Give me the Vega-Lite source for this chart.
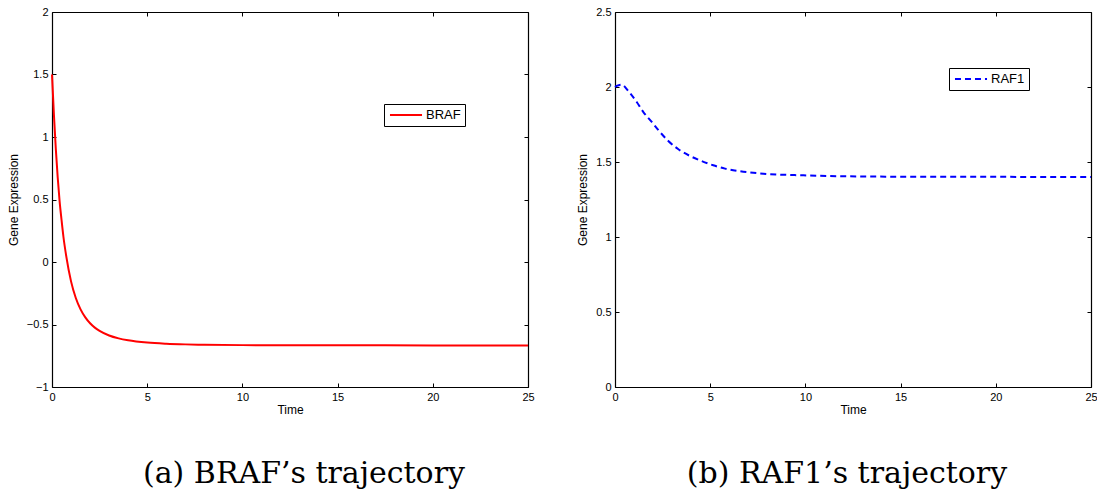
{
  "$schema": "https://vega.github.io/schema/vega-lite/v6.json",
  "background": "white",
  "padding": {"left": 7, "top": 6, "right": 0, "bottom": 5},
  "bounds": "flush",
  "spacing": 87,
  "config": {
    "view": {"stroke": null},
    "font": "Liberation Sans",
    "axis": {
      "domainColor": "black", "domainWidth": 1.2,
      "tickColor": "black", "tickSize": -4, "tickWidth": 1,
      "labelFont": "Liberation Sans", "labelFontSize": 11, "labelColor": "black",
      "labelPadding": 8, "labelFlush": false, "labelOverlap": false,
      "titleFont": "Liberation Sans", "titleFontSize": 12, "titleFontWeight": "normal", "titleColor": "black",
      "grid": false
    },
    "legend": {
      "strokeColor": "black", "fillColor": "white", "padding": 4,
      "symbolType": "M-2.67,0H2.67", "symbolSize": 144, "symbolStrokeWidth": 2, "symbolOffset": 11,
      "labelFont": "Liberation Sans", "labelFontSize": 13, "labelColor": "black", "labelOffset": 13
    },
    "title": {"font": "DejaVu Serif", "fontSize": 30, "fontWeight": "normal", "color": "black", "orient": "bottom", "anchor": "middle"}
  },
  "resolve": {"scale": {"color": "independent"}, "legend": {"color": "independent"}},
  "hconcat": [
    {
      "width": 476, "height": 375,
      "title": {"text": "(a) BRAF’s trajectory", "dx": 14, "offset": 44},
      "data": {"values": [
        {"gene": "BRAF", "t": 0, "v": 1.5},
        {"gene": "BRAF", "t": 0.1, "v": 1.179},
        {"gene": "BRAF", "t": 0.2, "v": 0.905},
        {"gene": "BRAF", "t": 0.3, "v": 0.676},
        {"gene": "BRAF", "t": 0.4, "v": 0.485},
        {"gene": "BRAF", "t": 0.5, "v": 0.338},
        {"gene": "BRAF", "t": 0.6, "v": 0.202},
        {"gene": "BRAF", "t": 0.75, "v": 0.045},
        {"gene": "BRAF", "t": 1.0, "v": -0.155},
        {"gene": "BRAF", "t": 1.25, "v": -0.288},
        {"gene": "BRAF", "t": 1.5, "v": -0.379},
        {"gene": "BRAF", "t": 1.75, "v": -0.443},
        {"gene": "BRAF", "t": 2.0, "v": -0.49},
        {"gene": "BRAF", "t": 2.25, "v": -0.525},
        {"gene": "BRAF", "t": 2.5, "v": -0.551},
        {"gene": "BRAF", "t": 3.0, "v": -0.588},
        {"gene": "BRAF", "t": 3.5, "v": -0.611},
        {"gene": "BRAF", "t": 4.0, "v": -0.6265},
        {"gene": "BRAF", "t": 5.0, "v": -0.6446},
        {"gene": "BRAF", "t": 6.0, "v": -0.6538},
        {"gene": "BRAF", "t": 7.0, "v": -0.659},
        {"gene": "BRAF", "t": 8.0, "v": -0.662},
        {"gene": "BRAF", "t": 10, "v": -0.665},
        {"gene": "BRAF", "t": 12, "v": -0.6663},
        {"gene": "BRAF", "t": 15, "v": -0.6668},
        {"gene": "BRAF", "t": 20, "v": -0.667},
        {"gene": "BRAF", "t": 25, "v": -0.667}
      ]},
      "layer": [
        {
          "mark": {"type": "line", "strokeWidth": 2, "interpolate": "monotone"},
          "encoding": {
            "x": {"field": "t", "type": "quantitative", "scale": {"domain": [0, 25], "nice": false},
                  "axis": {"values": [0, 5, 10, 15, 20, 25], "title": "Time", "titlePadding": 2}},
            "y": {"field": "v", "type": "quantitative", "scale": {"domain": [-1, 2], "nice": false, "zero": false},
                  "axis": {"values": [-1, -0.5, 0, 0.5, 1, 1.5, 2], "format": "~g", "title": "Gene Expression", "titlePadding": 6}},
            "color": {"field": "gene", "type": "nominal", "scale": {"domain": ["BRAF"], "range": ["#ff0000"]},
                      "legend": {"title": null, "orient": "none", "legendX": 332, "legendY": 92}}
          }
        },
        {
          "mark": {"type": "line", "opacity": 0},
          "encoding": {
            "x": {"field": "t", "type": "quantitative", "axis": {"orient": "top", "values": [0, 5, 10, 15, 20, 25], "labels": false, "title": null}},
            "y": {"field": "v", "type": "quantitative", "axis": {"orient": "right", "values": [-1, -0.5, 0, 0.5, 1, 1.5, 2], "labels": false, "title": null}}
          }
        }
      ],
      "resolve": {"axis": {"x": "independent", "y": "independent"}}
    },
    {
      "width": 476, "height": 375,
      "title": {"text": "(b) RAF1’s trajectory", "dx": -6, "offset": 44},
      "data": {"values": [
        {"gene": "RAF1", "t": 0, "v": 2.0},
        {"gene": "RAF1", "t": 0.09, "v": 2.007},
        {"gene": "RAF1", "t": 0.35, "v": 2.016},
        {"gene": "RAF1", "t": 0.7, "v": 1.973},
        {"gene": "RAF1", "t": 1.14, "v": 1.9},
        {"gene": "RAF1", "t": 1.49, "v": 1.833},
        {"gene": "RAF1", "t": 1.93, "v": 1.767},
        {"gene": "RAF1", "t": 2.36, "v": 1.70},
        {"gene": "RAF1", "t": 2.8, "v": 1.64},
        {"gene": "RAF1", "t": 3.33, "v": 1.585},
        {"gene": "RAF1", "t": 3.94, "v": 1.54},
        {"gene": "RAF1", "t": 4.46, "v": 1.511},
        {"gene": "RAF1", "t": 5.16, "v": 1.478},
        {"gene": "RAF1", "t": 5.78, "v": 1.456},
        {"gene": "RAF1", "t": 6.48, "v": 1.44},
        {"gene": "RAF1", "t": 7.79, "v": 1.422},
        {"gene": "RAF1", "t": 9.9, "v": 1.411},
        {"gene": "RAF1", "t": 12, "v": 1.405},
        {"gene": "RAF1", "t": 15, "v": 1.402},
        {"gene": "RAF1", "t": 20, "v": 1.401},
        {"gene": "RAF1", "t": 25, "v": 1.4}
      ]},
      "layer": [
        {
          "mark": {"type": "line", "strokeWidth": 2, "strokeDash": [6, 4], "interpolate": "monotone"},
          "encoding": {
            "x": {"field": "t", "type": "quantitative", "scale": {"domain": [0, 25], "nice": false},
                  "axis": {"values": [0, 5, 10, 15, 20, 25], "title": "Time", "titlePadding": 2}},
            "y": {"field": "v", "type": "quantitative", "scale": {"domain": [0, 2.5], "nice": false},
                  "axis": {"values": [0, 0.5, 1, 1.5, 2, 2.5], "format": "~g", "title": "Gene Expression", "titlePadding": 6}},
            "color": {"field": "gene", "type": "nominal", "scale": {"domain": ["RAF1"], "range": ["#0000ff"]},
                      "legend": {"title": null, "orient": "none", "legendX": 334, "legendY": 56, "symbolDash": [6, 4]}}
          }
        },
        {
          "mark": {"type": "line", "opacity": 0},
          "encoding": {
            "x": {"field": "t", "type": "quantitative", "axis": {"orient": "top", "values": [0, 5, 10, 15, 20, 25], "labels": false, "title": null}},
            "y": {"field": "v", "type": "quantitative", "axis": {"orient": "right", "values": [0, 0.5, 1, 1.5, 2, 2.5], "labels": false, "title": null}}
          }
        }
      ],
      "resolve": {"axis": {"x": "independent", "y": "independent"}}
    }
  ]
}
